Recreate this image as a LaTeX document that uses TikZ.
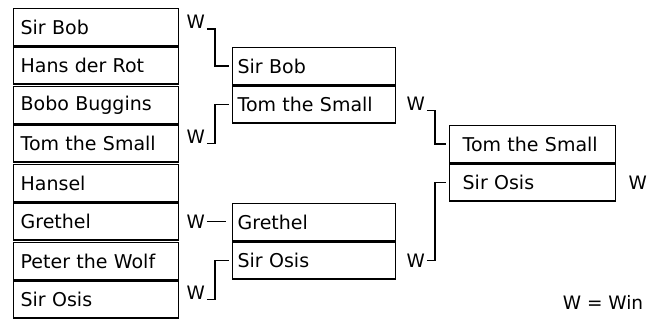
\documentclass[tikz,border=0pt]{standalone}
\usepackage{fontspec}
\setmainfont{DejaVu Sans}
\usetikzlibrary{positioning}

\tikzset{
  cell/.style={draw, rectangle, line width=1.3pt, minimum height=37pt, inner xsep=7pt, text width=151pt, align=left, font=\fontsize{19}{21}\selectfont},
  wmark/.style={inner sep=0pt, anchor=south west, font=\fontsize{18.5}{20}\selectfont},
  conn/.style={line width=1.3pt, shorten <=2pt, shorten >=3pt},
}

\begin{document}
\begin{tikzpicture}[x=1pt, y=-1pt]
        \useasboundingbox (0,0) rectangle (659,320);

        % first round
        \node[cell, anchor=north west] (a1) at (13,8) {Sir Bob};
        \node[cell, below=0pt of a1] (a2) {Hans der Rot};
        \node[cell, anchor=north west] (b1) at (13,86) {Bobo Buggins};
        \node[cell, below=0pt of b1] (b2) {Tom the Small};
        \node[cell, anchor=north west] (c1) at (13,164) {Hansel};
        \node[cell, below=0pt of c1] (c2) {Grethel};
        \node[cell, anchor=north west] (d1) at (13,242) {Peter the Wolf};
        \node[cell, below=0pt of d1] (d2) {Sir Osis};

        % second round
        \node[cell, inner xsep=5pt, text width=153pt, anchor=north west] (e1) at (232,47) {Sir Bob};
        \node[cell, inner xsep=5pt, text width=153pt, below=0pt of e1] (e2) {Tom the Small};
        \node[cell, inner xsep=5pt, text width=153pt, anchor=north west] (f1) at (232,203) {Grethel};
        \node[cell, inner xsep=5pt, text width=153pt, below=0pt of f1] (f2) {Sir Osis};

        % final
        \node[cell, inner xsep=13pt, text width=140pt, anchor=north west] (g1) at (449,125) {Tom the Small};
        \node[cell, inner xsep=13pt, text width=140pt, below=0pt of g1] (g2) {Sir Osis};

        % winner marks
        \node[wmark] (wa) at ([xshift=7pt, yshift=-2pt]a1.east) {W};
        \node[wmark] (wb) at ([xshift=7pt]b2.east) {W};
        \node[wmark, anchor=west] (wc) at ([xshift=7pt]c2.east) {W};
        \node[wmark] (wd) at ([xshift=7pt]d2.east) {W};
        \node[wmark] (we) at ([xshift=10pt, yshift=-6pt]e2.east) {W};
        \node[wmark, anchor=west] (wf) at ([xshift=10pt]f2.east) {W};
        \node[wmark, anchor=west] (wg) at ([xshift=12pt]g2.east) {W};

        \node[font=\fontsize{18.5}{20}\selectfont] (key) at (603,302) {W = Win};

        \draw[conn] (wa.south east) -- ++(10,0) |- (e1.west);
        \draw[conn] (wb.south east) -- ++(10,0) |- (e2.west);
        \draw[conn, shorten >=6pt] (wc.east) -- (wc.east -| f1.west);
        \draw[conn] (wd.south east) -- ++(10,0) |- (f2.west);
        \draw[conn] (we.south east) -- ++(10,0) |- (g1.west);
        \draw[conn] (wf.east) -- ++(10,0) |- (g2.west);
    \end{tikzpicture}
\end{document}
